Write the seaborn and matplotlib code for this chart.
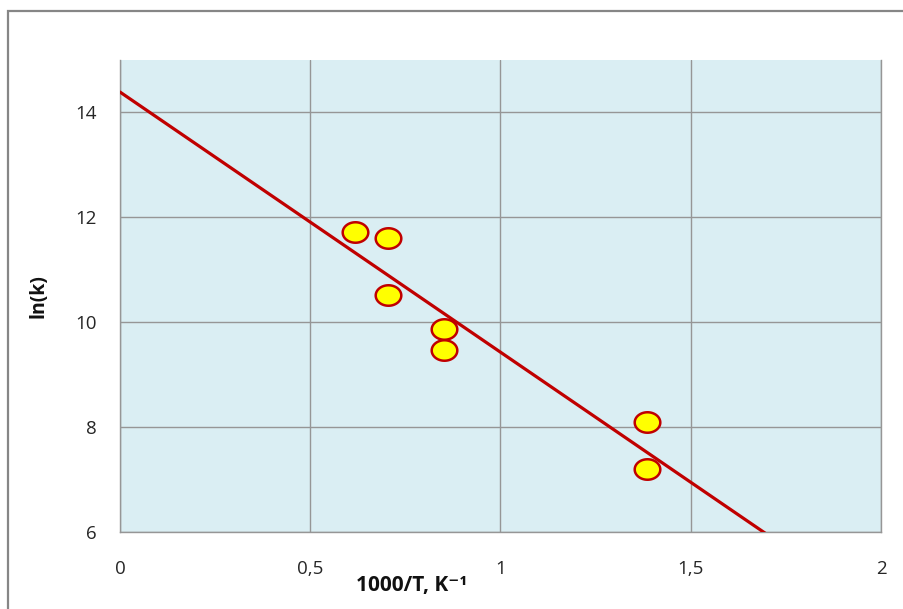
import numpy as np
import pandas as pd
import matplotlib
matplotlib.use("Agg")
import matplotlib.pyplot as plt
import matplotlib.patches as mpatches
from matplotlib.path import Path
from matplotlib.ticker import FuncFormatter
import seaborn as sns

# Arrhenius data: reciprocal temperature and log rate constant
inv_T = [0.618, 0.704, 0.704, 0.851, 0.851, 1.385, 1.385]
ln_k = [11.72, 11.60, 10.52, 9.88, 9.47, 8.10, 7.20]
x_ticks = [0, 0.5, 1, 1.5, 2]
y_ticks = [6, 8, 10, 12, 14]

df = pd.DataFrame({"inv_T": inv_T, "ln_k": ln_k})

sns.set_theme(style="white")
plt.rcParams["font.family"] = ["Open Sans", "DejaVu Sans"]

fig = plt.figure(figsize=(9.04, 6.09), dpi=100)
ax = fig.add_axes([120 / 904, 1 - 532 / 609, (881 - 120) / 904, (532 - 60) / 609])
ax.set_facecolor("#DAEEF3")

ax.set_xlim(0, 2)
ax.set_ylim(6, 15)

# least-squares trend line across the whole x range
sns.regplot(data=df, x="inv_T", y="ln_k", ax=ax, ci=None, truncate=False,
            scatter=False, line_kws=dict(color="#C00000", lw=2.3, zorder=3))

# slightly flattened circle marker
t = np.linspace(0, 2 * np.pi, 60)
ell = Path(np.column_stack([np.cos(t), 0.8 * np.sin(t)]), closed=True)
sns.scatterplot(data=df, x="inv_T", y="ln_k", ax=ax, marker=ell, s=340,
                color="#FFFF00", edgecolor="#C00000", linewidth=1.8, zorder=4)

ax.set_xticks(x_ticks)
ax.set_yticks(y_ticks)
fmt = FuncFormatter(lambda v, p: (f"{v:g}").replace(".", ","))
ax.xaxis.set_major_formatter(fmt)
ax.yaxis.set_major_formatter(fmt)
ax.grid(True, color="#969696", lw=1.0)
ax.set_axisbelow(True)
for s in ["left", "bottom", "right"]:
    ax.spines[s].set_color("#969696")
    ax.spines[s].set_linewidth(1.0)
ax.spines["top"].set_visible(False)
ax.tick_params(axis="both", length=0, labelsize=13.5, colors="#262626")
ax.tick_params(axis="x", pad=20)
ax.tick_params(axis="y", pad=17)

ax.set_xlabel("")
ax.set_ylabel("")
fig.text(412 / 904, 1 - 585 / 609, "1000/T, K⁻¹", ha="center", va="center",
         fontsize=15, fontweight="bold", color="#111111")
fig.text(38 / 904, 1 - 296 / 609, "ln(k)", ha="center", va="center", rotation=90,
         fontsize=14, fontweight="bold", color="#111111")

# chart frame
fig.add_artist(mpatches.Rectangle((8 / 904, -0.05), 1.0, 1 - 11 / 609 + 0.05,
                                  transform=fig.transFigure, fill=False,
                                  edgecolor="#868686", lw=1.6))

fig.savefig("out.png", dpi=100)
